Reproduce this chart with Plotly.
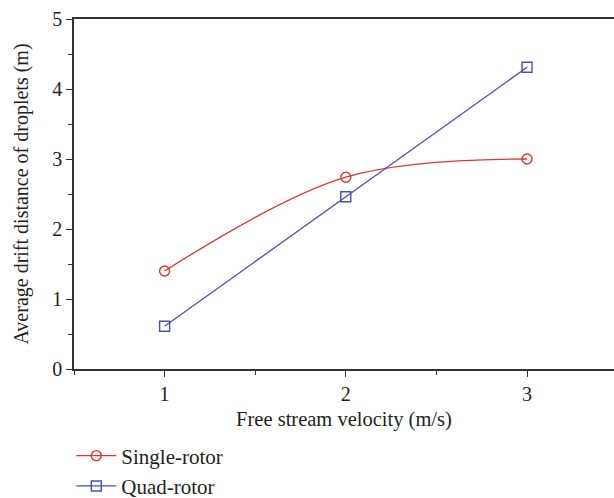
import plotly.graph_objects as go

velocity = [1, 2, 3]
single_rotor = [1.40, 2.74, 3.00]
quad_rotor = [0.61, 2.46, 4.31]

red = "#e0352b"
blue = "#4b4fb4"
font_family = "Liberation Serif, Times New Roman, serif"
txt = "#231f20"

fig = go.Figure()
fig.add_trace(go.Scatter(
    x=velocity, y=single_rotor, name="Single-rotor",
    mode="lines+markers",
    line=dict(color=red, width=1.3, shape="spline", smoothing=1.0),
    marker=dict(symbol="circle-open", size=10, color=red, line=dict(width=1.4)),
))
fig.add_trace(go.Scatter(
    x=velocity, y=quad_rotor, name="Quad-rotor",
    mode="lines+markers",
    line=dict(color=blue, width=1.3),
    marker=dict(symbol="square-open", size=10, color=blue, line=dict(width=1.4)),
))

axis_common = dict(
    showgrid=False, zeroline=False, showline=True, linecolor="#333333", linewidth=1.5,
    ticks="outside", ticklen=6, tickwidth=1.2, tickcolor="#333333",
    tickfont=dict(family=font_family, size=20, color=txt),
    minor=dict(ticks="outside", ticklen=4, tickwidth=1.2, tickcolor="#333333", dtick=0.5),
    automargin=False,
)

fig.update_xaxes(
    range=[0.5, 3.48], dtick=1, tick0=0, mirror=True,
    title=dict(text="Free stream velocity (m/s)", font=dict(family=font_family, size=20.5, color=txt), standoff=8),
    **axis_common,
)
fig.update_yaxes(
    range=[0, 5], dtick=1, tick0=0,
    title=dict(text="Average drift distance of droplets (m)", font=dict(family=font_family, size=20, color=txt), standoff=18),
    **axis_common,
)

fig.update_layout(
    width=614, height=498,
    margin=dict(l=74, r=0, t=19, b=129, autoexpand=False),
    plot_bgcolor="white", paper_bgcolor="white",
    showlegend=True,
    legend=dict(
        x=-0.005, y=-0.19, xanchor="left", yanchor="top",
        font=dict(family=font_family, size=21, color=txt),
        bgcolor="rgba(0,0,0,0)", tracegroupgap=0, itemwidth=40,
    ),
)

fig.write_html("out.html")
